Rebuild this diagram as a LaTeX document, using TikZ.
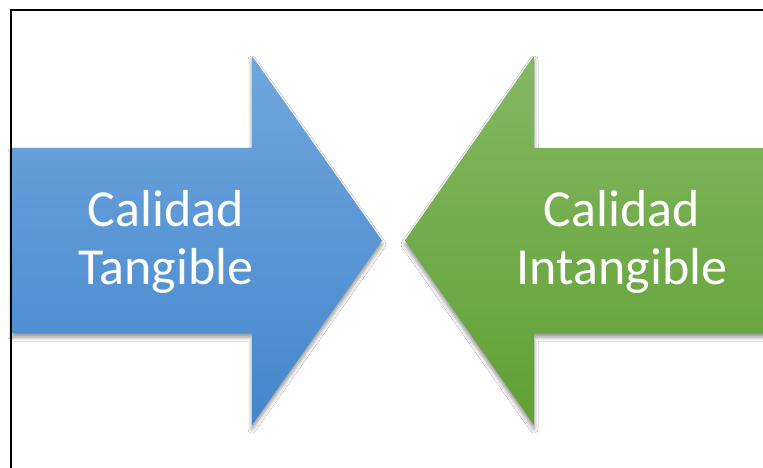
\documentclass[tikz,border=0pt]{standalone}
\usepackage{fontspec}
\setmainfont{Carlito}
\usetikzlibrary{shadows.blur}
\definecolor{bluetop}{RGB}{112,166,221}
\definecolor{bluebot}{RGB}{68,135,204}
\definecolor{greentop}{RGB}{132,184,98}
\definecolor{greenbot}{RGB}{96,160,52}
\tikzset{
  arrowshape/.style={blur shadow={shadow xshift=0pt, shadow yshift=-4pt, shadow blur radius=4pt, shadow opacity=45}},
  label/.style={text=white, font=\fontsize{52}{58}\selectfont, align=center, inner sep=0pt},
  frame/.style={draw=black, line width=2pt}
}
\begin{document}
\begin{tikzpicture}[x=1pt,y=-1pt]
\useasboundingbox (0,0) rectangle (763,468);
\clip (0,0) rectangle (763,468);
\fill[white] (0,0) rectangle (763,468);
% blue arrow
\path[arrowshape, top color=bluetop, bottom color=bluebot]
  (12,148) -- (252,148) -- (252,56) -- (382,240.5) -- (252,425) -- (252,333) -- (12,333) -- cycle;
% green arrow
\path[arrowshape, top color=greentop, bottom color=greenbot]
  (820,148) -- (534,148) -- (534,56) -- (405,240.5) -- (534,425) -- (534,333) -- (820,333) -- cycle;
\node[label] (tangible) at (166,242) {Calidad\\Tangible};
\node[label] (intangible) at (622,242) {Calidad\\Intangible};
% frame
\draw[frame] (11,480) -- (11,10) -- (780,10);
\end{tikzpicture}
\end{document}
